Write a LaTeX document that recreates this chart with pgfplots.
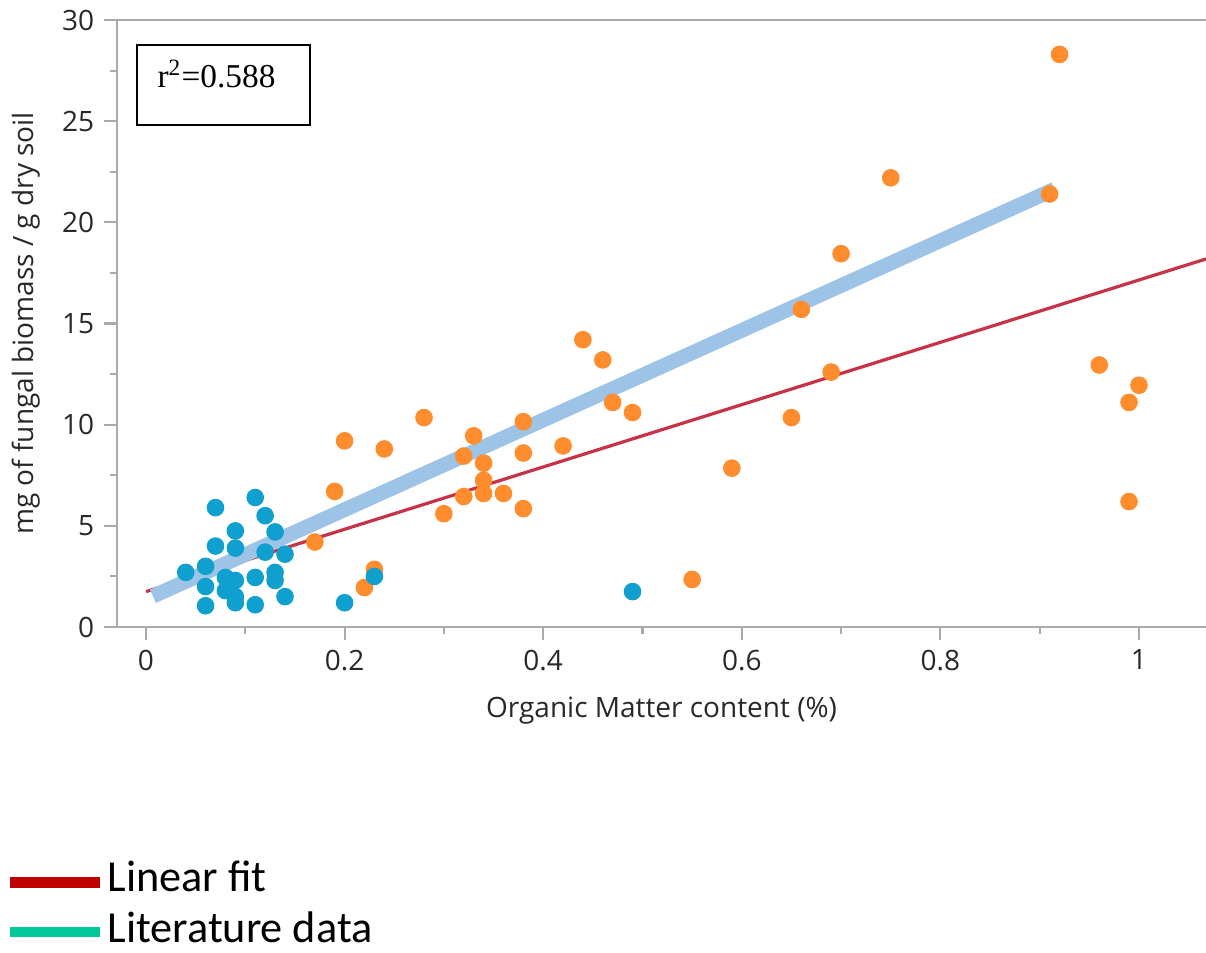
\documentclass[border=0pt]{standalone}
\usepackage{fontspec}
\setmainfont{Open Sans}
\newfontfamily\timesf{Liberation Serif}
\newfontfamily\calib{Carlito}
\usepackage{pgfplots}
\pgfplotsset{compat=1.18}
\definecolor{litblue}{RGB}{16,160,208}
\definecolor{ourorange}{RGB}{255,140,45}
\definecolor{fitred}{RGB}{200,50,70}
\definecolor{bandblue}{RGB}{157,195,230}
\definecolor{legred}{RGB}{192,0,0}
\definecolor{legteal}{RGB}{0,200,150}
\definecolor{axgray}{RGB}{170,170,170}
\definecolor{labcol}{RGB}{40,40,40}
\begin{document}
\begin{tikzpicture}[x=1pt,y=1pt]
\useasboundingbox (-43.875,-121.875) rectangle (408.375,235.125);
\begin{axis}[
  at={(0,0)}, anchor=south west,
  scale only axis, width=408.375pt, height=227.625pt,
  xmin=-0.0292, xmax=1.0675, ymin=0, ymax=30,
  axis lines=left,
  axis line style={-, draw=axgray, line width=0.8pt},
  clip=false,
  xtick={0,0.2,0.4,0.6,0.8,1},
  ytick={0,5,10,15,20,25,30},
  minor x tick num=1, minor y tick num=1,
  tick align=outside,
  major tick length=5pt, minor tick length=2.5pt,
  every tick/.style={draw=axgray, line width=0.8pt},
  /pgf/number format/assume math mode=true,
  ticklabel style={font=\fontsize{10.5}{12}\selectfont, text=labcol},
  xlabel={Organic Matter content (\%)},
  ylabel={mg of fungal biomass / g dry soil},
  xlabel style={font=\fontsize{10.5}{12}\selectfont, text=labcol, anchor=base, at={(axis description cs:0.5,-0.1483)}},
  ylabel style={font=\fontsize{10.5}{12}\selectfont, text=labcol, anchor=base, at={(axis description cs:-0.0771,0.5)}},
]
\draw[axgray, line width=0.8pt] (rel axis cs:0,1) -- (rel axis cs:1,1);
% orange points (own data)
\addplot[only marks, mark=*, mark size=3.1pt, color=ourorange] coordinates {
(0.17,4.2) (0.19,6.7) (0.20,9.2) (0.22,1.95) (0.23,2.85) (0.24,8.8) (0.28,10.35)
(0.30,5.6) (0.32,8.45) (0.32,6.45) (0.33,9.45) (0.34,8.1) (0.34,7.25) (0.34,6.6)
(0.36,6.6) (0.38,10.15) (0.38,8.6) (0.38,5.85) (0.42,8.95) (0.44,14.2) (0.46,13.2)
(0.47,11.1) (0.49,10.6) (0.55,2.35) (0.59,7.85) (0.65,10.35) (0.66,15.7) (0.69,12.6)
(0.70,18.45) (0.75,22.2) (0.91,21.4) (0.92,28.3) (0.96,12.95) (0.99,11.1) (0.99,6.2)
(1.00,11.95)
};
% blue points (literature data)
\addplot[only marks, mark=*, mark size=3.1pt, color=litblue] coordinates {
(0.04,2.7) (0.06,3.0) (0.06,2.0) (0.06,1.05) (0.07,5.9) (0.07,4.0) (0.08,2.45)
(0.08,1.8) (0.09,4.75) (0.09,3.9) (0.09,2.3) (0.09,1.5) (0.09,1.2) (0.11,6.4)
(0.11,2.45) (0.11,1.1) (0.12,5.5) (0.12,3.7) (0.13,4.7) (0.13,2.7) (0.13,2.3)
(0.14,3.6) (0.14,1.5) (0.20,1.2) (0.23,2.5) (0.49,1.75)
};
% linear fit
\addplot[fitred, line width=1.2pt] coordinates {(0,1.75) (1.0675,18.19)};
% thick band
\addplot[bandblue, line width=5.5pt, line cap=butt] coordinates {(0.007,1.52) (0.915,21.64)};
% r^2 box
\draw[black, line width=0.75pt] (axis cs:-0.0092,28.77) rectangle (axis cs:0.1650,24.82);
\end{axis}
\node[anchor=base west, inner sep=0pt, font=\timesf\fontsize{12.5}{14}\selectfont] at (15,202.5) {r\textsuperscript{2}=0.588};
% legend
\draw[legred, line width=4pt] (-40.1,-95.9) -- (-6.4,-95.9);
\node[anchor=base west, inner sep=0pt, font=\calib\fontsize{16.6}{19}\selectfont] at (-3.75,-99.25) {Linear fit};
\draw[legteal, line width=4pt] (-40.1,-114.4) -- (-6.4,-114.4);
\node[anchor=base west, inner sep=0pt, font=\calib\fontsize{16.6}{19}\selectfont] at (-3.75,-118.2) {Literature data};
\end{tikzpicture}
\end{document}
